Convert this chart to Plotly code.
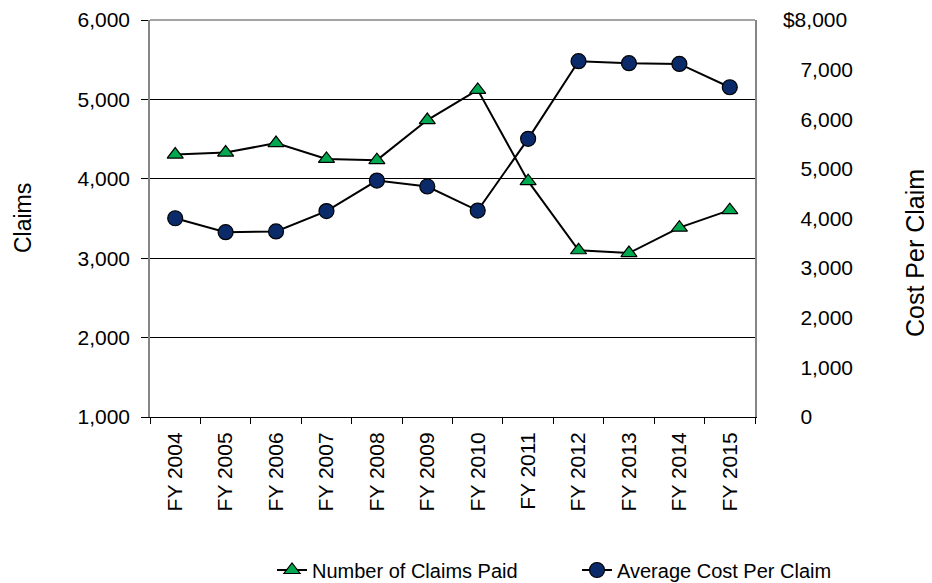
import plotly.graph_objects as go

# values
years = ["FY 2004", "FY 2005", "FY 2006", "FY 2007", "FY 2008", "FY 2009",
         "FY 2010", "FY 2011", "FY 2012", "FY 2013", "FY 2014", "FY 2015"]
claims_paid = [4305, 4330, 4450, 4250, 4235, 4740, 5120, 3970, 3100, 3065, 3385, 3605]
avg_cost = [4005, 3725, 3740, 4150, 4765, 4645, 4160, 5605, 7170, 7130, 7115, 6645]

claims_ticks = [1000, 2000, 3000, 4000, 5000, 6000]
cost_ticks = [0, 1000, 2000, 3000, 4000, 5000, 6000, 7000, 8000]
pad = "\u00a0\u00a0\u00a0"
cost_ticktext = [pad + f"{v:,}" for v in cost_ticks]
cost_ticktext[-1] = "$" + f"{cost_ticks[-1]:,}"

FONT = "Liberation Sans, Arial, sans-serif"
GREEN = "#00A850"
NAVY = "#0B2A6A"
GREY = "#868686"

# the page body has an 8px margin, so the figure is drawn 8px smaller
OFF = 8
FW, FH = 932 - OFF, 583 - OFF
# plot area in figure pixels
L, R, T, B = 150 - OFF, 755 - OFF, 20 - OFF, 417 - OFF
W, H = R - L, B - T

fig = go.Figure()

fig.add_trace(go.Scatter(
    x=years, y=claims_paid, name="Number of Claims Paid",
    mode="lines+markers",
    line=dict(color="black", width=2),
    marker=dict(symbol="triangle-up", size=14, color=GREEN,
                line=dict(color="black", width=1.2)),
    yaxis="y", legend="legend",
))

fig.add_trace(go.Scatter(
    x=years, y=avg_cost, name="Average Cost Per Claim",
    mode="lines+markers",
    line=dict(color="black", width=2),
    marker=dict(symbol="circle", size=15, color=NAVY,
                line=dict(color="black", width=1.2)),
    yaxis="y2", legend="legend2",
))

leg = dict(orientation="h", xanchor="left", yanchor="middle",
           y=(B - (570 - OFF)) / H, font=dict(size=20),
           bgcolor="rgba(0,0,0,0)")

fig.update_layout(
    width=FW, height=FH,
    margin=dict(l=L, r=FW - R, t=T, b=FH - B, autoexpand=False),
    paper_bgcolor="white", plot_bgcolor="white",
    font=dict(family=FONT, size=21, color="black"),
    showlegend=True,
    legend=dict(leg, x=(272 - OFF - L) / W),
    legend2=dict(leg, x=(577 - OFF - L) / W),
    xaxis=dict(
        type="category", range=[-0.5, 11.5],
        tickangle=-90, tickson="boundaries",
        ticks="outside", ticklen=6, tickcolor="black",
        showline=True, linecolor="black", linewidth=1,
        showgrid=False, zeroline=False,
        ticklabelstandoff=6,
    ),
    # inner halves of the crossing tick marks
    xaxis2=dict(
        overlaying="x", anchor="y", range=[-0.5, 11.5],
        tickvals=[i - 0.5 for i in range(13)], ticks="inside", ticklen=6,
        tickcolor="black", showticklabels=False, showgrid=False,
        zeroline=False, showline=False,
    ),
    yaxis=dict(
        range=[1000, 6000], tickvals=claims_ticks,
        tickformat=",", ticks="outside", ticklen=7, tickcolor="black",
        showline=True, linecolor=GREY, linewidth=1.5,
        showgrid=True, gridcolor="black", gridwidth=1,
        zeroline=False, ticklabelstandoff=7,
    ),
    yaxis2=dict(
        range=[0, 8000], tickvals=cost_ticks, ticktext=cost_ticktext,
        overlaying="y", side="right",
        ticks="", showline=True, linecolor=GREY, linewidth=1.5,
        showgrid=False, zeroline=False, ticklabelstandoff=22,
    ),
    yaxis3=dict(
        overlaying="y", anchor="x", side="left", range=[1000, 6000],
        tickvals=claims_ticks, ticks="inside", ticklen=10, tickcolor="#333333",
        showticklabels=False, showgrid=False, zeroline=False, showline=False,
    ),
    shapes=[dict(type="line", xref="paper", yref="paper",
                 x0=0, x1=1, y0=1, y1=1,
                 line=dict(color=GREY, width=1.5), layer="above")],
    annotations=[
        dict(text="Claims", xref="paper", yref="paper",
             x=(23 - OFF - L) / W, y=(B - (218 - OFF)) / H, textangle=-90,
             xanchor="center", yanchor="middle",
             showarrow=False, font=dict(size=23)),
        dict(text="Cost Per Claim", xref="paper", yref="paper",
             x=(915 - OFF - L) / W, y=(B - (253 - OFF)) / H, textangle=-90,
             xanchor="center", yanchor="middle",
             showarrow=False, font=dict(size=25)),
    ],
)

fig.write_html("out.html")
